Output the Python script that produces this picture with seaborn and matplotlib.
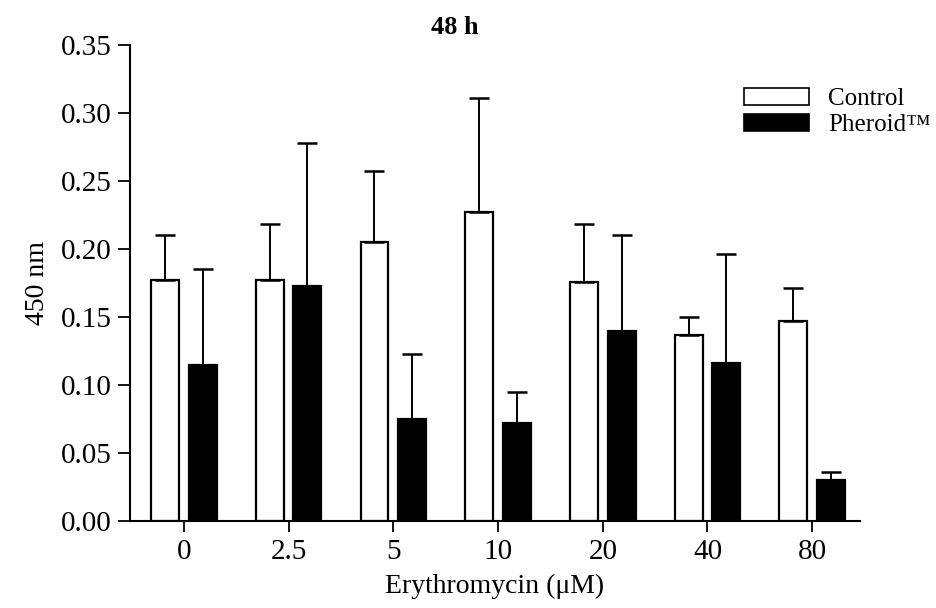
import numpy as np
import pandas as pd
import matplotlib
matplotlib.use("Agg")
import matplotlib.pyplot as plt
import seaborn as sns
from matplotlib.patches import Patch

# values
doses = ["0", "2.5", "5", "10", "20", "40", "80"]
control_mean = [0.177, 0.177, 0.205, 0.227, 0.176, 0.137, 0.147]
control_err = [0.033, 0.041, 0.052, 0.084, 0.042, 0.013, 0.024]
pheroid_mean = [0.115, 0.173, 0.075, 0.072, 0.140, 0.116, 0.030]
pheroid_err = [0.070, 0.105, 0.048, 0.023, 0.070, 0.080, 0.006]
groups = ["Control", "Pheroid\u2122"]

sns.set_style("ticks")
plt.rcParams["font.family"] = ["Liberation Serif", "DejaVu Serif"]
plt.rcParams["text.color"] = "black"
plt.rcParams["axes.labelcolor"] = "black"
plt.rcParams["xtick.color"] = "black"
plt.rcParams["ytick.color"] = "black"

df = pd.DataFrame({
    "dose": doses * 2,
    "value": control_mean + pheroid_mean,
    "err": control_err + pheroid_err,
    "group": [groups[0]] * len(doses) + [groups[1]] * len(doses),
})

fig = plt.figure(figsize=(9.36, 6.08), dpi=100)
ax = fig.add_axes([0.1389, 0.1431, 0.78, 0.783])

sns.barplot(
    data=df, x="dose", y="value", hue="group", order=doses,
    hue_order=groups, palette=["white", "black"], width=0.72, gap=0.26,
    errorbar=None, edgecolor="black", linewidth=1.6, legend=False, ax=ax
)

# upward-only error bars, placed on the drawn bars
bars = [p for p in ax.patches if p.get_height() > 0]
errs = control_err + pheroid_err
for p, e in zip(bars, errs):
    xc = p.get_x() + p.get_width() / 2
    ax.errorbar(xc, p.get_height(), yerr=[[0], [e]], fmt="none",
                ecolor="black", elinewidth=1.4, capsize=7, capthick=1.8)

ax.set_xlim(-0.514, 6.457)
ax.set_ylim(0, 0.35)
ax.set_yticks(np.arange(0, 0.351, 0.05))
ax.set_yticklabels([f"{v:.2f}" for v in np.arange(0, 0.351, 0.05)])
sns.despine(ax=ax)
ax.spines["left"].set_linewidth(1.5)
ax.spines["bottom"].set_linewidth(1.5)
ax.spines["left"].set_color("black")
ax.spines["bottom"].set_color("black")
ax.tick_params(axis="y", direction="out", length=9, width=1.3, labelsize=21, pad=4)
ax.tick_params(axis="x", direction="out", length=8, width=1.3, labelsize=21, pad=5)

ax.set_xlabel("Erythromycin (\u03bcM)", fontsize=20, labelpad=6)
ax.set_ylabel("450 nm", fontsize=20, labelpad=8)

fig.text(0.486, 0.955, "48 h", ha="center", va="center",
         fontsize=19, fontweight="bold")

handles = [Patch(facecolor="white", edgecolor="black", linewidth=1.2),
           Patch(facecolor="black", edgecolor="black", linewidth=1.2)]
ax.legend(handles, groups, loc="upper left", bbox_to_anchor=(0.795, 0.855),
          bbox_transform=fig.transFigure, frameon=False, fontsize=18,
          handlelength=2.6, handleheight=0.65, handletextpad=0.75,
          labelspacing=0.15, borderpad=0, borderaxespad=0)

fig.savefig("out.png", dpi=100)
